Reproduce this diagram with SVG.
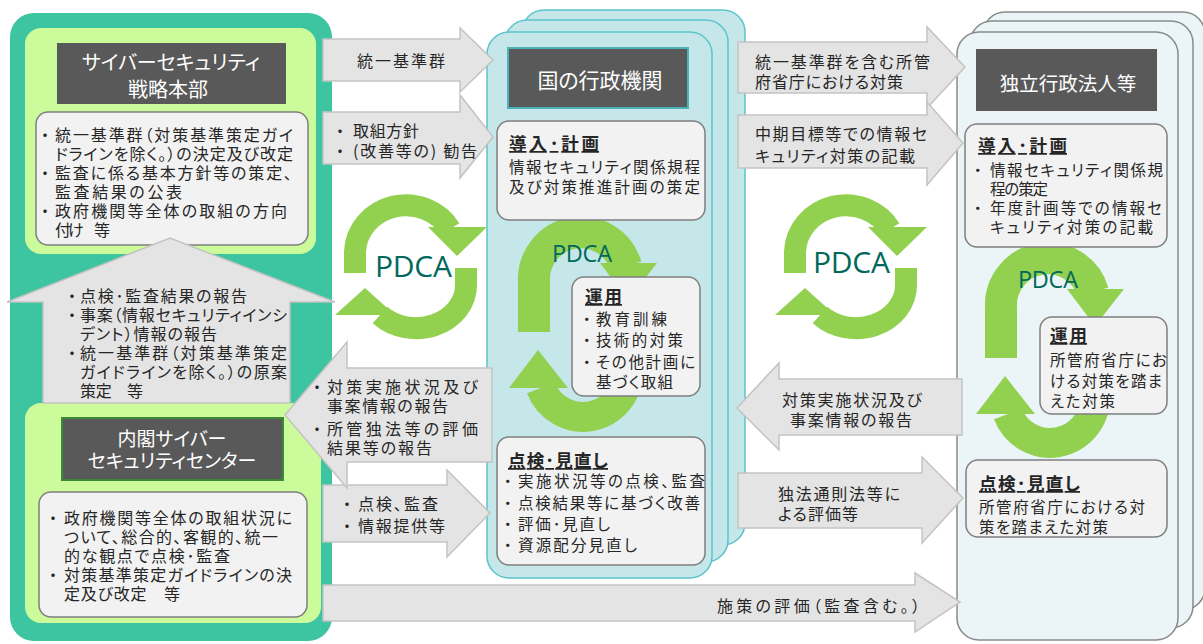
<svg xmlns="http://www.w3.org/2000/svg" width="1203" height="644" viewBox="0 0 1203 644">
<style>
.tx{font-family:"Noto Sans CJK JP","Noto Sans",sans-serif;fill:#262626;font-feature-settings:"palt" 1;}
.np{font-feature-settings:normal;}
.s17{font-size:16px}
.s16{font-size:15.5px}
.hd{font-weight:bold;font-size:17.5px;text-decoration:underline;}
.wt{fill:#ffffff;text-anchor:middle;}
.box{fill:#f2f2f2;stroke:#7f7f7f;stroke-width:1.5}
.ga{fill:#e4e4e4;stroke:#c3c3c3;stroke-width:1.5}
.pd{fill:none;stroke:#92d050}
.pdh{fill:#92d050}
.pdt{font-family:"Open Sans","Noto Sans",sans-serif;fill:#00695c}
.ttl{fill:#595959}
.mp{fill:#c6e7ea;stroke:#5bc4cc;stroke-width:1.5}
.rp{fill:#ebf5f7;stroke:#8a8a8a;stroke-width:1.5}
</style>
<defs>
<g id="pdca-s">
<path class="pd" stroke-width="22" d="M355 273 V252 A51 48 0 0 1 450 229"/>
<polygon class="pdh" points="428,227 487,227 457,256"/>
<path class="pd" stroke-width="22" d="M466 268 V285 A50 43 0 0 1 380 315"/>
<polygon class="pdh" points="365,288 335,315 395,315"/>
</g>
<g id="pdca-b">
<path class="pd" stroke-width="32" d="M534 332 V282 A47 47 0 0 1 626 266"/>
<polygon class="pdh" points="600,263 657,263 628,300"/>
<path class="pd" stroke-width="30" d="M628 335 V373 A45 45 0 0 1 541 388"/>
<polygon class="pdh" points="538,350 509,388 568,388"/>
</g>
</defs>
<rect width="1203" height="644" fill="#ffffff"/>

<!-- Left column -->
<g id="nisc-container">
<rect x="10" y="13" width="322" height="628" rx="24" fill="#3dc4a0"/>
</g>
<g id="hq">
<rect x="25" y="28" width="291" height="226" rx="16" fill="#ccfb9b"/>
<rect class="ttl" x="57" y="43" width="229" height="61"/>
<text class="tx wt" x="171" y="70" font-size="20">サイバーセキュリティ</text>
<text class="tx wt" x="168" y="97" font-size="20">戦略本部</text>
<rect class="box" x="36" y="112" width="272" height="133" rx="12"/>
<text class="tx s17" y="141"><tspan class="np" x="37">・</tspan><tspan x="55" textLength="238">統一基準群（対策基準策定ガイ</tspan></text>
<text class="tx s17" x="55" y="160" textLength="238">ドラインを除く。）の決定及び改定</text>
<text class="tx s17" y="179"><tspan class="np" x="37">・</tspan><tspan x="55" textLength="237">監査に係る基本方針等の策定、</tspan></text>
<text class="tx s17" x="55" y="198" textLength="127">監査結果の公表</text>
<text class="tx s17" y="217"><tspan class="np" x="37">・</tspan><tspan x="55" textLength="232">政府機関等全体の取組の方向</tspan></text>
<text class="tx s17" x="55" y="236" textLength="55">付け　等</text>
</g>
<g id="nisc">
<rect x="25" y="403" width="296" height="220" rx="16" fill="#ccfb9b"/>
<rect class="ttl" x="62" y="418" width="221" height="62" stroke="#3a8a3a" stroke-width="2"/>
<text class="tx wt" x="172" y="446" font-size="19">内閣サイバー</text>
<text class="tx wt" x="172" y="468" font-size="19">セキュリティセンター</text>
<rect class="box" x="39" y="492" width="268" height="125" rx="12"/>
<text class="tx s17" y="524"><tspan class="np" x="45">・</tspan><tspan x="64" textLength="228">政府機関等全体の取組状況に</tspan></text>
<text class="tx s17" x="64" y="543" textLength="214">ついて、総合的、客観的、統一</text>
<text class="tx s17" x="64" y="562" textLength="166">的な観点で点検･監査</text>
<text class="tx s17" y="581"><tspan class="np" x="45">・</tspan><tspan x="64" textLength="228">対策基準策定ガイドラインの決</tspan></text>
<text class="tx s17" x="64" y="600" textLength="116">定及び改定　等</text>
</g>

<!-- Middle column -->
<g id="gov-agencies">
<rect class="mp" x="522" y="10" width="223" height="535" rx="22"/>
<rect class="mp" x="505" y="20" width="223" height="542" rx="22"/>
<rect class="mp" x="487" y="32" width="225" height="546" rx="22"/>
<rect class="ttl" x="508" y="48" width="180" height="60" stroke="#4bb3b8" stroke-width="2"/>
<text class="tx wt" x="600" y="88" font-size="21">国の行政機関</text>
<use href="#pdca-b"/>
<text class="pdt" x="552" y="262" font-size="23.5" textLength="60">PDCA</text>
<rect class="box" x="497" y="121" width="208" height="99" rx="12"/>
<text class="tx hd" x="509" y="150" textLength="90">導入･計画</text>
<text class="tx s16" x="509" y="173" textLength="191">情報セキュリティ関係規程</text>
<text class="tx s16" x="509" y="193" textLength="191">及び対策推進計画の策定</text>
<rect class="box" x="572" y="277" width="128" height="119" rx="12"/>
<text class="tx hd" x="585" y="303" textLength="37">運用</text>
<text class="tx s16" y="325"><tspan class="np" x="579">・</tspan><tspan x="596" textLength="71">教育訓練</tspan></text>
<text class="tx s16" y="346"><tspan class="np" x="579">・</tspan><tspan x="596" textLength="87">技術的対策</tspan></text>
<text class="tx s16" y="368"><tspan class="np" x="579">・</tspan><tspan x="596" textLength="99">その他計画に</tspan></text>
<text class="tx s16" x="596" y="388" textLength="77">基づく取組</text>
<rect class="box" x="497" y="437" width="208" height="128" rx="12"/>
<text class="tx hd" x="508" y="467" textLength="100">点検･見直し</text>
<text class="tx s16" y="487"><tspan class="np" x="500">・</tspan><tspan x="518" textLength="187">実施状況等の点検、監査</tspan></text>
<text class="tx s16" y="509"><tspan class="np" x="500">・</tspan><tspan x="518" textLength="182">点検結果等に基づく改善</tspan></text>
<text class="tx s16" y="530"><tspan class="np" x="500">・</tspan><tspan x="518" textLength="92">評価･見直し</tspan></text>
<text class="tx s16" y="551"><tspan class="np" x="500">・</tspan><tspan x="518" textLength="119">資源配分見直し</tspan></text>
</g>

<!-- Right column -->
<g id="independent-agencies">
<rect class="rp" x="983" y="12" width="222" height="598" rx="22"/>
<rect class="rp" x="970" y="21" width="223" height="607" rx="22"/>
<rect class="rp" x="957" y="32" width="221" height="608" rx="22"/>
<rect class="ttl" x="976" y="49" width="181" height="62"/>
<text class="tx wt" x="1068" y="91" font-size="19.5">独立行政法人等</text>
<use href="#pdca-b" transform="translate(467,26)"/>
<text class="pdt" x="1018" y="288" font-size="23.5" textLength="60">PDCA</text>
<rect class="box" x="965" y="124" width="202" height="123" rx="12"/>
<text class="tx hd" x="978" y="152" textLength="89">導入･計画</text>
<text class="tx s16" y="176"><tspan class="np" x="970">・</tspan><tspan x="990" textLength="173">情報セキュリティ関係規</tspan></text>
<text class="tx s16" x="990" y="195" textLength="58">程の策定</text>
<text class="tx s16" y="214"><tspan class="np" x="970">・</tspan><tspan x="990" textLength="172">年度計画等での情報セ</tspan></text>
<text class="tx s16" x="990" y="233" textLength="163">キュリティ対策の記載</text>
<rect class="box" x="1040" y="317" width="127" height="97" rx="12"/>
<text class="tx hd" x="1050" y="342" textLength="37">運用</text>
<text class="tx s16" x="1050" y="366" textLength="117">所管府省庁にお</text>
<text class="tx s16" x="1050" y="387" textLength="112">ける対策を踏ま</text>
<text class="tx s16" x="1050" y="407" textLength="65">えた対策</text>
<rect class="box" x="966" y="460" width="201" height="77" rx="12"/>
<text class="tx hd" x="979" y="490" textLength="101">点検･見直し</text>
<text class="tx s16" x="979" y="513" textLength="166">所管府省庁における対</text>
<text class="tx s16" x="979" y="533" textLength="129">策を踏まえた対策</text>
</g>

<!-- PDCA cycles between columns -->
<g id="pdca-left">
<use href="#pdca-s"/>
<text class="pdt" x="375" y="277" font-size="30" textLength="77">PDCA</text>
</g>
<g id="pdca-right">
<use href="#pdca-s" transform="translate(440,0)"/>
<text class="pdt" x="813" y="273" font-size="30" textLength="77">PDCA</text>
</g>

<!-- Connectors -->
<g id="connectors">
<path class="ga" d="M43 403 V302 H7 L170 238 L335 302 H290 V403 Z"/>
<text class="tx s17" y="302"><tspan class="np" x="64">・</tspan><tspan x="80" textLength="167">点検･監査結果の報告</tspan></text>
<text class="tx s17" y="321"><tspan class="np" x="64">・</tspan><tspan x="80" textLength="207">事案（情報セキュリティインシ</tspan></text>
<text class="tx s17" x="80" y="340" textLength="137">デント）情報の報告</text>
<text class="tx s17" y="359"><tspan class="np" x="64">・</tspan><tspan x="80" textLength="207">統一基準群（対策基準策定</tspan></text>
<text class="tx s17" x="80" y="378" textLength="207">ガイドラインを除く。）の原案</text>
<text class="tx s17" x="80" y="397" textLength="63">策定　等</text>

<path class="ga" d="M323 39 H460 V28 L493 60 L460 92 V81 H323 Z"/>
<text class="tx s17" x="357" y="67" textLength="88">統一基準群</text>

<path class="ga" d="M323 112 H460 V95 L493 137 L460 178 V164 H323 Z"/>
<text class="tx s17" y="137"><tspan class="np" x="332">・</tspan><tspan x="353" textLength="66">取組方針</tspan></text>
<text class="tx s17" y="157"><tspan class="np" x="332">・</tspan><tspan x="353" textLength="124">(改善等の) 勧告</tspan></text>

<path class="ga" d="M323 485 H447 V470 L490 513 L447 557 V542 H323 Z"/>
<text class="tx s17" y="510"><tspan class="np" x="339">・</tspan><tspan x="358" textLength="80">点検、監査</tspan></text>
<text class="tx s17" y="532"><tspan class="np" x="339">・</tspan><tspan x="358" textLength="87">情報提供等</tspan></text>

<path class="ga" d="M492 368 H347 V342 L285 415 L347 488 V462 H492 Z"/>
<text class="tx s17" y="393"><tspan class="np" x="309">・</tspan><tspan x="327" textLength="151">対策実施状況及び</tspan></text>
<text class="tx s17" x="327" y="412" textLength="121">事案情報の報告</text>
<text class="tx s17" y="435"><tspan class="np" x="309">・</tspan><tspan x="327" textLength="151">所管独法等の評価</tspan></text>
<text class="tx s17" x="327" y="454" textLength="105">結果等の報告</text>

<path class="ga" d="M323 585 H915 V573 L960 602 L915 632 V621 H323 Z"/>
<text class="tx s17" x="717" y="612" textLength="203">施策の評価（監査含む。）</text>

<path class="ga" d="M738 42 H927 V27 L965 67 L927 108 V93 H738 Z"/>
<text class="tx s17" x="755" y="68" textLength="175">統一基準群を含む所管</text>
<text class="tx s17" x="755" y="88" textLength="148">府省庁における対策</text>

<path class="ga" d="M738 115 H927 V102 L963 143 L927 185 V168 H738 Z"/>
<text class="tx s17" x="755" y="140" textLength="172">中期目標等での情報セ</text>
<text class="tx s17" x="755" y="162" textLength="160">キュリティ対策の記載</text>

<path class="ga" d="M962 379 H779 V363 L737 408 L779 450 V435 H962 Z"/>
<text class="tx s17" x="782" y="406" textLength="140">対策実施状況及び</text>
<text class="tx s17" x="790" y="426" textLength="122">事案情報の報告</text>

<path class="ga" d="M738 473 H922 V457 L963 498 L922 543 V528 H738 Z"/>
<text class="tx s17" x="778" y="500" textLength="122">独法通則法等に</text>
<text class="tx s17" x="778" y="520" textLength="80">よる評価等</text>
</g>
</svg>
